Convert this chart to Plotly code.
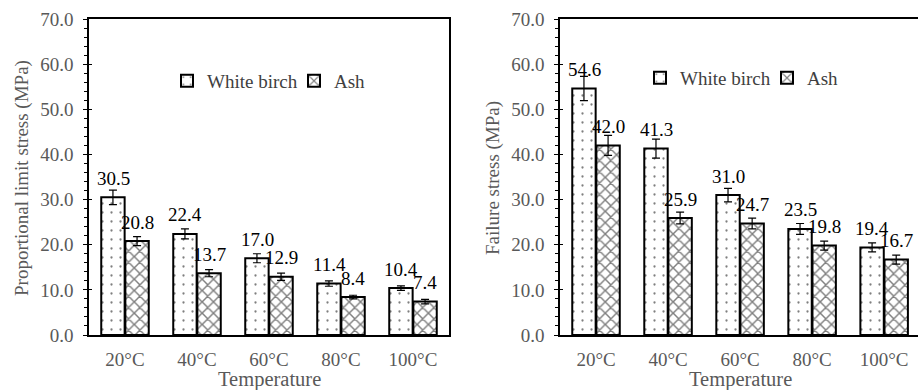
import plotly.graph_objects as go

# Temperature levels and measured stresses (MPa)
temperatures = ["20°C", "40°C", "60°C", "80°C", "100°C"]

prop_birch = [30.5, 22.4, 17.0, 11.4, 10.4]
prop_ash = [20.8, 13.7, 12.9, 8.4, 7.4]
prop_birch_err = [1.6, 1.1, 1.0, 0.6, 0.5]
prop_ash_err = [1.0, 0.8, 0.8, 0.4, 0.5]

fail_birch = [54.6, 41.3, 31.0, 23.5, 19.4]
fail_ash = [42.0, 25.9, 24.7, 19.8, 16.7]
fail_birch_err = [2.7, 2.1, 1.5, 1.2, 1.0]
fail_ash_err = [2.2, 1.3, 1.2, 1.0, 1.0]

y_ticks = [0, 10, 20, 30, 40, 50, 60, 70]

SERIF = "Liberation Serif"
GRAY = "#595959"
W, H = 918, 390
PLOT_TOP, PLOT_BOTTOM = 19, 335

BIRCH_PATTERN = dict(shape=".", fgcolor="black", bgcolor="white", size=9, solidity=0.05)
ASH_PATTERN = dict(shape="x", fgcolor="black", bgcolor="white", size=8, solidity=0.33)

fig = go.Figure()


def add_panel(xa, ya, legend, birch, ash, birch_err, ash_err):
    fig.add_trace(go.Bar(
        x=temperatures, y=birch, name="White birch",
        xaxis=xa, yaxis=ya, legend=legend,
        marker=dict(color="white", line=dict(color="black", width=2), pattern=BIRCH_PATTERN),
        error_y=dict(type="data", array=birch_err, color="black", thickness=1.2, width=4),
    ))
    fig.add_trace(go.Bar(
        x=temperatures, y=ash, name="Ash",
        xaxis=xa, yaxis=ya, legend=legend,
        marker=dict(color="white", line=dict(color="black", width=2), pattern=ASH_PATTERN),
        error_y=dict(type="data", array=ash_err, color="black", thickness=1.2, width=4),
    ))
    # value labels above each bar
    for series, shift in ((birch, -1 / 6), (ash, 1 / 6)):
        for i, v in enumerate(series):
            fig.add_annotation(
                x=i + shift, y=v, xref=xa, yref=ya, text=f"{v:.1f}",
                showarrow=False, yshift=19, font=dict(family=SERIF, size=19, color="black"),
            )


add_panel("x", "y", "legend", prop_birch, prop_ash, prop_birch_err, prop_ash_err)
add_panel("x2", "y2", "legend2", fail_birch, fail_ash, fail_birch_err, fail_ash_err)

left_dom = [89 / W, 449 / W]
right_dom = [560 / W, 1.0]

xaxis_common = dict(
    type="category", showline=True, linecolor="black", linewidth=1.5, mirror=True,
    ticks="", ticklabelstandoff=6, showgrid=False, zeroline=False,
    tickfont=dict(family=SERIF, size=19, color=GRAY),
)
yaxis_common = dict(
    range=[0, 70], tickvals=y_ticks, ticktext=[f"{t:.1f}" for t in y_ticks],
    showline=True, linecolor="black", linewidth=1.5,
    ticks="outside", ticklen=4, tickcolor="black", tickwidth=1.2,
    minor=dict(dtick=2, ticks="outside", ticklen=3, tickcolor="black", tickwidth=1),
    ticklabelstandoff=6, showgrid=False, zeroline=False,
    tickfont=dict(family=SERIF, size=19, color=GRAY),
)
legend_common = dict(
    orientation="h", xanchor="left", yanchor="middle", bgcolor="rgba(0,0,0,0)",
    font=dict(family=SERIF, size=19, color="#404040"), itemwidth=30,
    entrywidth=82, xref="paper", yref="paper",
)

fig.update_layout(
    width=W, height=H,
    margin=dict(l=0, r=0, t=PLOT_TOP, b=H - PLOT_BOTTOM),
    paper_bgcolor="white", plot_bgcolor="white",
    barmode="group", bargap=0.33, bargroupgap=0.03,
    showlegend=True,
    xaxis=dict(domain=left_dom, range=[-0.5, 4.5], anchor="y", **xaxis_common),
    yaxis=dict(domain=[0, 1], mirror=True, anchor="x", **yaxis_common),
    xaxis2=dict(domain=right_dom, range=[-0.5, 4.47], anchor="y2", **xaxis_common),
    yaxis2=dict(domain=[0, 1], anchor="x2", **yaxis_common),
    legend=dict(x=167 / W, y=1 - (81 - PLOT_TOP) / (PLOT_BOTTOM - PLOT_TOP), **legend_common),
    legend2=dict(x=640 / W, y=1 - (78 - PLOT_TOP) / (PLOT_BOTTOM - PLOT_TOP), **legend_common),
)

# crossing part of the major ticks (inside half)
for name, base, anchor in (("yaxis3", "y", "x"), ("yaxis4", "y2", "x2")):
    fig.update_layout({name: dict(
        overlaying=base, anchor=anchor, range=[0, 70],
        tickvals=y_ticks, ticks="inside", ticklen=3, tickcolor="black", tickwidth=1.2,
        showticklabels=False, showline=False, showgrid=False, zeroline=False,
    )})
fig.add_trace(go.Scatter(x=[None], y=[None], xaxis="x", yaxis="y3", showlegend=False))
fig.add_trace(go.Scatter(x=[None], y=[None], xaxis="x2", yaxis="y4", showlegend=False))

# axis titles
for cx, text in (((89 + 449) / 2, "Temperature"), ((560 + 920) / 2, "Temperature")):
    fig.add_annotation(
        x=cx / W, y=1 - (379 - PLOT_TOP) / (PLOT_BOTTOM - PLOT_TOP), xref="paper", yref="paper",
        text=text, showarrow=False, xanchor="center", yanchor="middle",
        font=dict(family=SERIF, size=20.5, color=GRAY),
    )
for cx, text in ((22, "Proportional limit stress (MPa)"), (493, "Failure stress (MPa)")):
    fig.add_annotation(
        x=cx / W, y=1 - (178 - PLOT_TOP) / (PLOT_BOTTOM - PLOT_TOP), xref="paper", yref="paper",
        text=text, showarrow=False, xanchor="center", yanchor="middle", textangle=-90,
        font=dict(family=SERIF, size=19, color=GRAY),
    )

fig.write_html("out.html")
